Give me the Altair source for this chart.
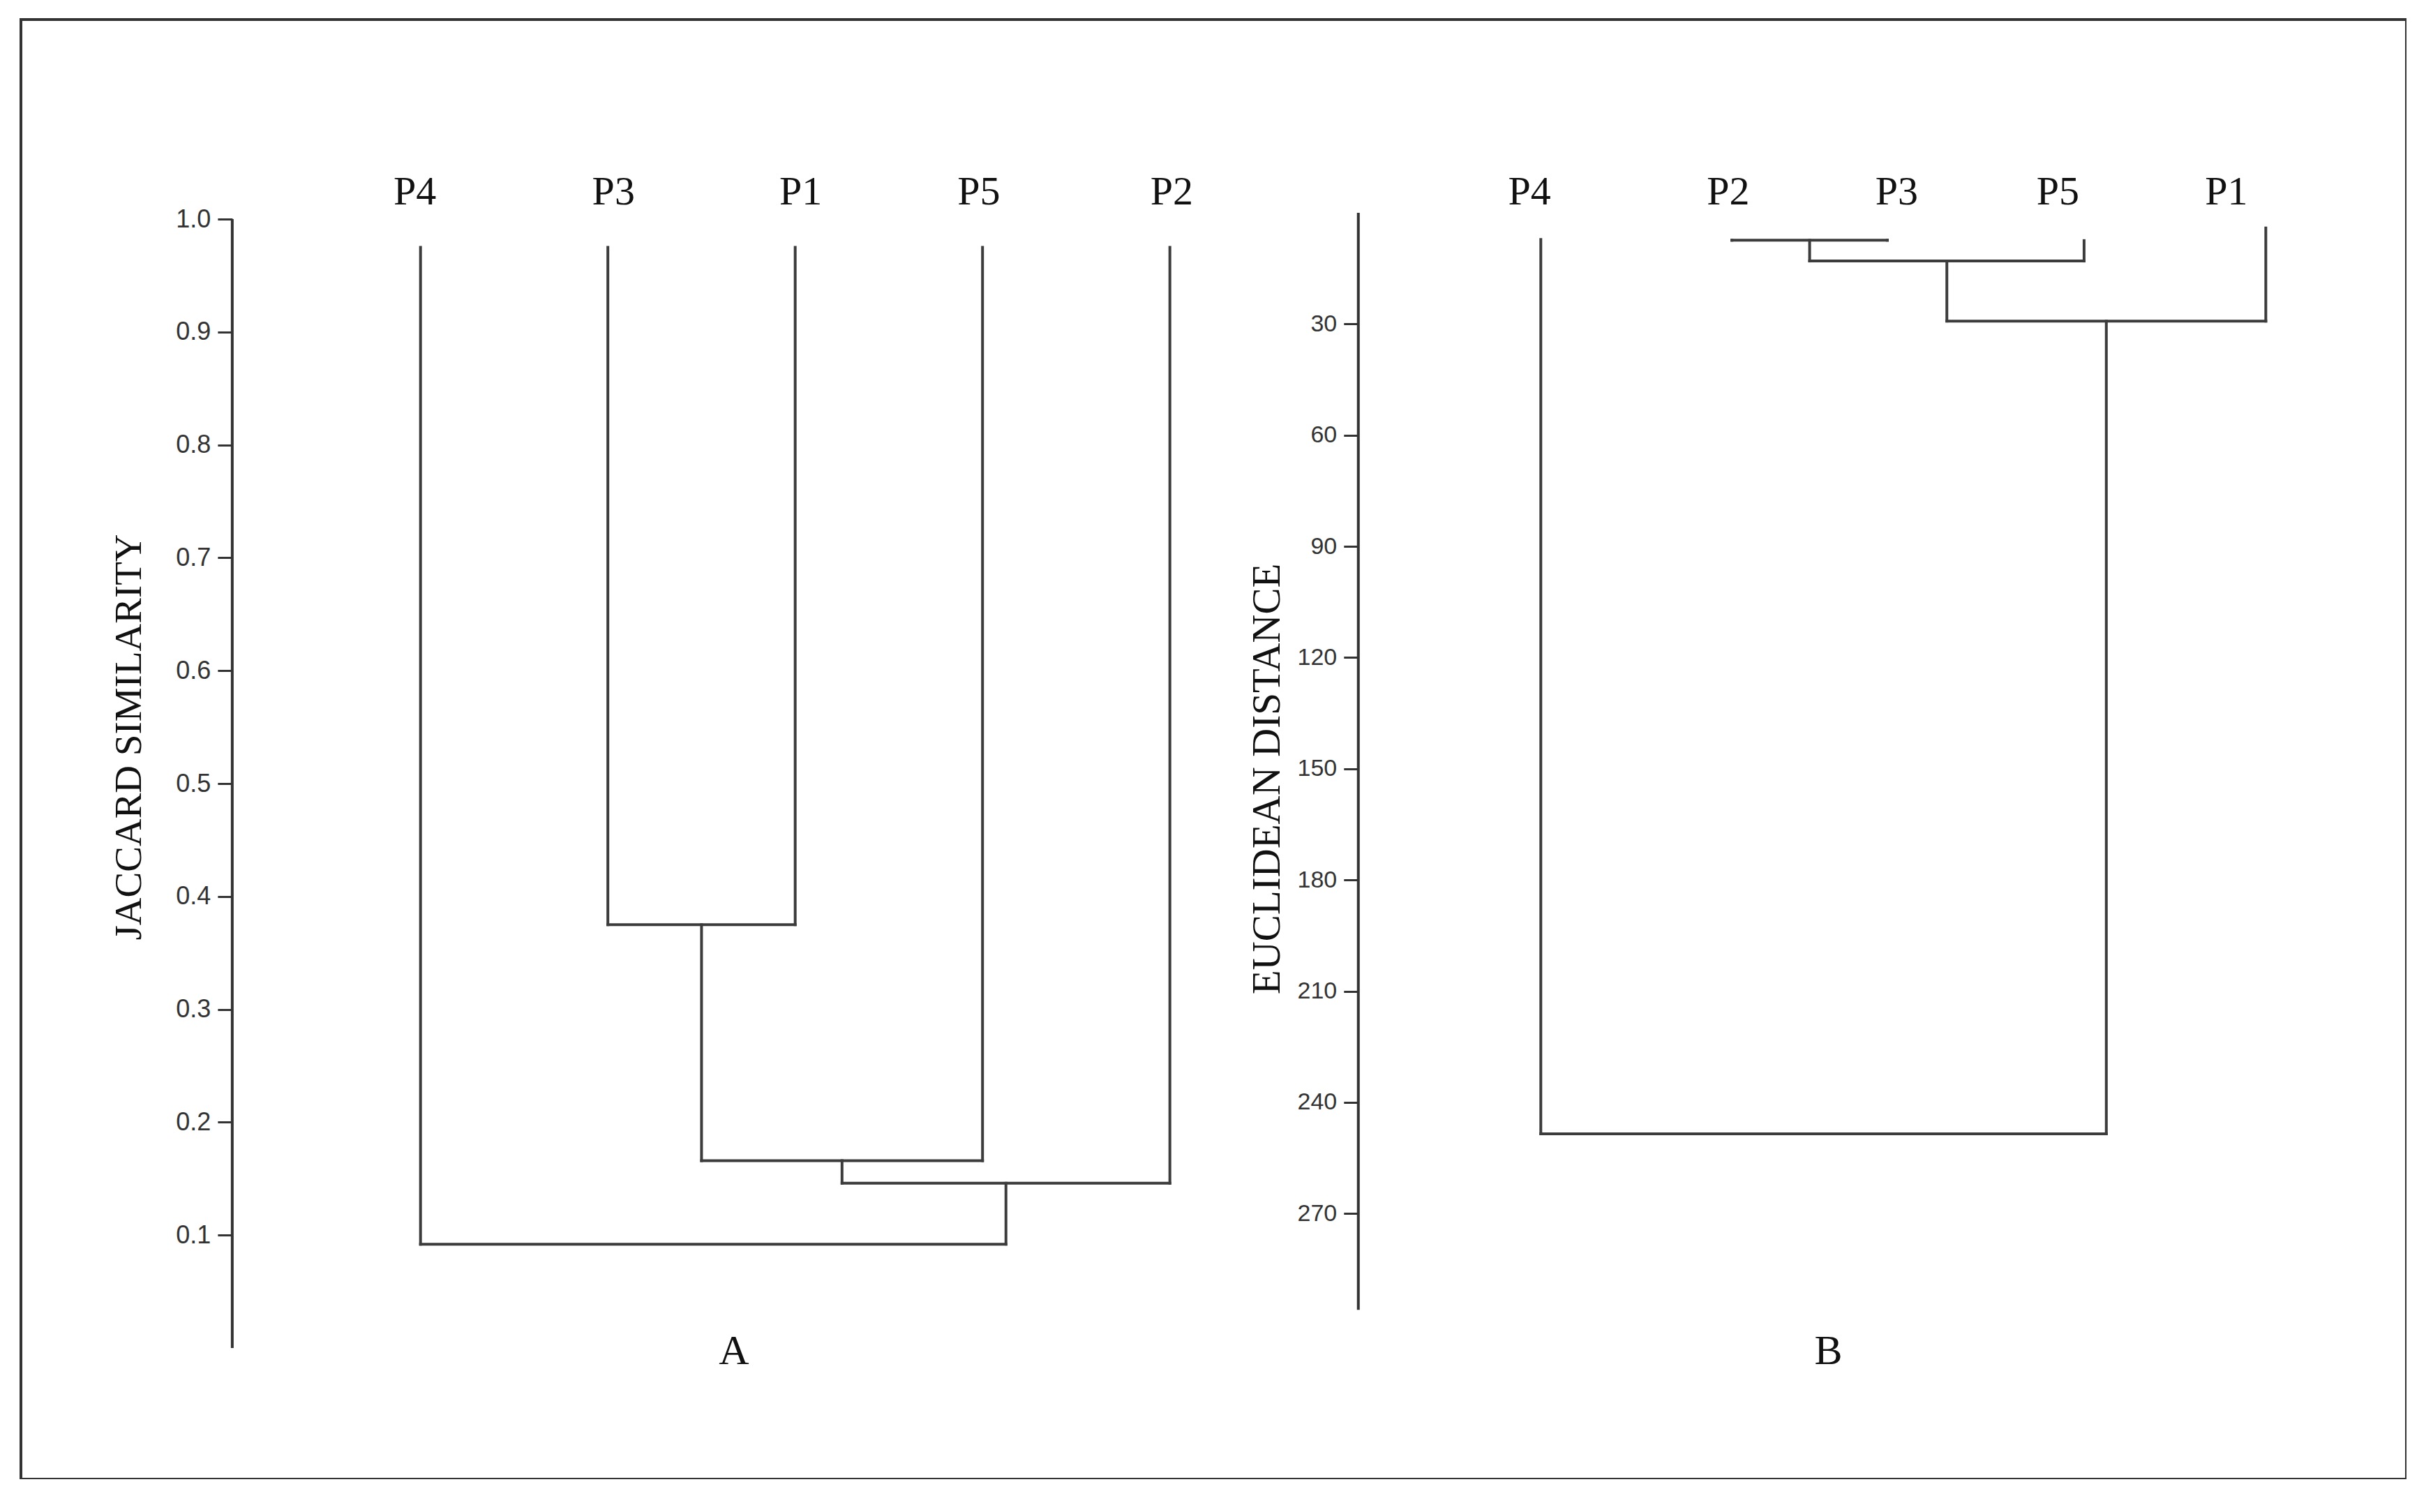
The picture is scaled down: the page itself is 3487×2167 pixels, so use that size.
import altair as alt
import pandas as pd

# ---------------- data ----------------
# Panel A : Jaccard similarity dendrogram
left_leaves = ["P4", "P3", "P1", "P5", "P2"]
left_leaf_x = [0.0, 1.0, 2.0, 3.0, 4.0]
left_label_x = [-0.03, 1.03, 2.03, 2.98, 4.01]
left_leaf_top = [0.975, 0.975, 0.975, 0.975, 0.975]
left_merges = [
    ("P3", "P1", 0.375),
    ("P3+P1", "P5", 0.166),
    ("P3+P1+P5", "P2", 0.146),
    ("P4", "P3+P1+P5+P2", 0.092),
]
left_ticks = [0.1, 0.2, 0.3, 0.4, 0.5, 0.6, 0.7, 0.8, 0.9, 1.0]
left_axis_extent = [0.0, 1.0]

# Panel B : Euclidean distance dendrogram
right_leaves = ["P4", "P2", "P3", "P5", "P1"]
right_leaf_x = [5.98, 7.00, 7.83, 8.88, 9.85]
right_label_x = [5.92, 6.98, 7.88, 8.74, 9.64]
right_leaf_top = [7.2, 7.4, 7.4, 7.5, 4.1]
right_merges = [
    ("P2", "P3", 7.4),
    ("P2+P3", "P5", 13.0),
    ("P2+P3+P5", "P1", 29.2),
    ("P4", "P2+P3+P5+P1", 248.5),
]
right_ticks = [30, 60, 90, 120, 150, 180, 210, 240, 270]
right_axis_extent = [0.0, 296.0]

panel_letters = ["A", "B"]

# ---------------- layout constants ----------------
W, H = 3419, 2092
X0, X1 = -2.133, 10.601
LEFT_AXIS_U, RIGHT_AXIS_U = -1.005, 5.006
LEFT_DOMAIN = [-0.1162, 1.1768]
RIGHT_DOMAIN = [-52.15, 341.68]
LINE = "#3c3c3c"


def px(u):
    return (u - X0) / (X1 - X0) * W


def segments(leaves, xs, tops, merges):
    pos = dict(zip(leaves, xs))
    hgt = dict(zip(leaves, tops))
    rows = []
    for a, b, m in merges:
        for c in (a, b):
            rows.append(dict(x=pos[c], x2=pos[c], y=hgt[c], y2=m))
        rows.append(dict(x=pos[a], x2=pos[b], y=m, y2=m))
        name = a + "+" + b
        pos[name] = (pos[a] + pos[b]) / 2
        hgt[name] = m
    return pd.DataFrame(rows)


xs = alt.Scale(domain=[X0, X1], nice=False, zero=False)
x_enc = alt.X("x:Q", scale=xs, axis=None)


def panel(leaves, leaf_x, label_x, tops, merges, ticks, extent, axis_u,
          yscale, fmt, title, title_x, title_y, label_y, letter, letter_x,
          letter_y, label_size, title_size):
    axis = alt.Axis(
        orient="left", offset=-px(axis_u), values=ticks, format=fmt,
        domain=False, grid=False, ticks=True, tickSize=21, tickWidth=3,
        tickColor="#333333", labelFont="Liberation Sans",
        labelFontSize=label_size, labelColor="#333333", labelPadding=10,
        labelOverlap=False, labelBound=False, labelFlush=False,
        title=title, titleFont="Liberation Serif", titleFontSize=title_size,
        titleFontWeight="normal", titleColor="#111111", titleAngle=270,
        titleX=title_x, titleY=title_y, titleBaseline="alphabetic",
        titleAlign="center",
    )
    y_enc = alt.Y("y:Q", scale=yscale, axis=axis)

    seg = segments(leaves, leaf_x, tops, merges)
    dendro = alt.Chart(seg).mark_rule(
        color=LINE, strokeWidth=4, strokeCap="square"
    ).encode(x=x_enc, x2="x2:Q", y=y_enc, y2="y2:Q")

    axis_line = alt.Chart(
        pd.DataFrame({"x": [axis_u], "y": [extent[0]], "y2": [extent[1]]})
    ).mark_rule(color="#333333", strokeWidth=4).encode(
        x=x_enc, y=y_enc, y2="y2:Q")

    labels = alt.Chart(
        pd.DataFrame({"x": label_x, "y": [label_y] * len(leaves), "t": leaves})
    ).mark_text(font="Liberation Serif", fontSize=58, color="#111111",
                baseline="alphabetic", align="center").encode(
        x=x_enc, y=y_enc, text="t:N")

    let = alt.Chart(
        pd.DataFrame({"x": [letter_x], "y": [letter_y], "t": [letter]})
    ).mark_text(font="Liberation Serif", fontSize=60, color="#111111",
                baseline="alphabetic", align="center").encode(
        x=x_enc, y=y_enc, text="t:N")

    return alt.layer(dendro, axis_line, labels, let)


left = panel(
    left_leaves, left_leaf_x, left_label_x, left_leaf_top, left_merges,
    left_ticks, left_axis_extent, LEFT_AXIS_U,
    alt.Scale(domain=LEFT_DOMAIN, nice=False, zero=False), ".1f",
    "JACCARD SIMILARITY", -131, 1028, 1.013, panel_letters[0], 1.673, -0.014,
    36, 55,
)

right = panel(
    right_leaves, right_leaf_x, right_label_x, right_leaf_top, right_merges,
    right_ticks, right_axis_extent, RIGHT_AXIS_U,
    alt.Scale(domain=RIGHT_DOMAIN, reverse=True, nice=False, zero=False), "d",
    "EUCLIDEAN DISTANCE", -113, 1088, -2.2, panel_letters[1], 7.515, 310.6,
    34, 57,
)

chart = (
    alt.layer(left, right)
    .resolve_scale(y="independent")
    .properties(
        width=W, height=H,
        autosize=alt.AutoSizeParams(type="none"),
        padding={"left": 22, "top": 20, "right": 0, "bottom": 0},
        background="white",
    )
    .configure_view(stroke="#333333", strokeWidth=4)
)

chart.save("out.html", embed_options={"renderer": "svg", "actions": False})
